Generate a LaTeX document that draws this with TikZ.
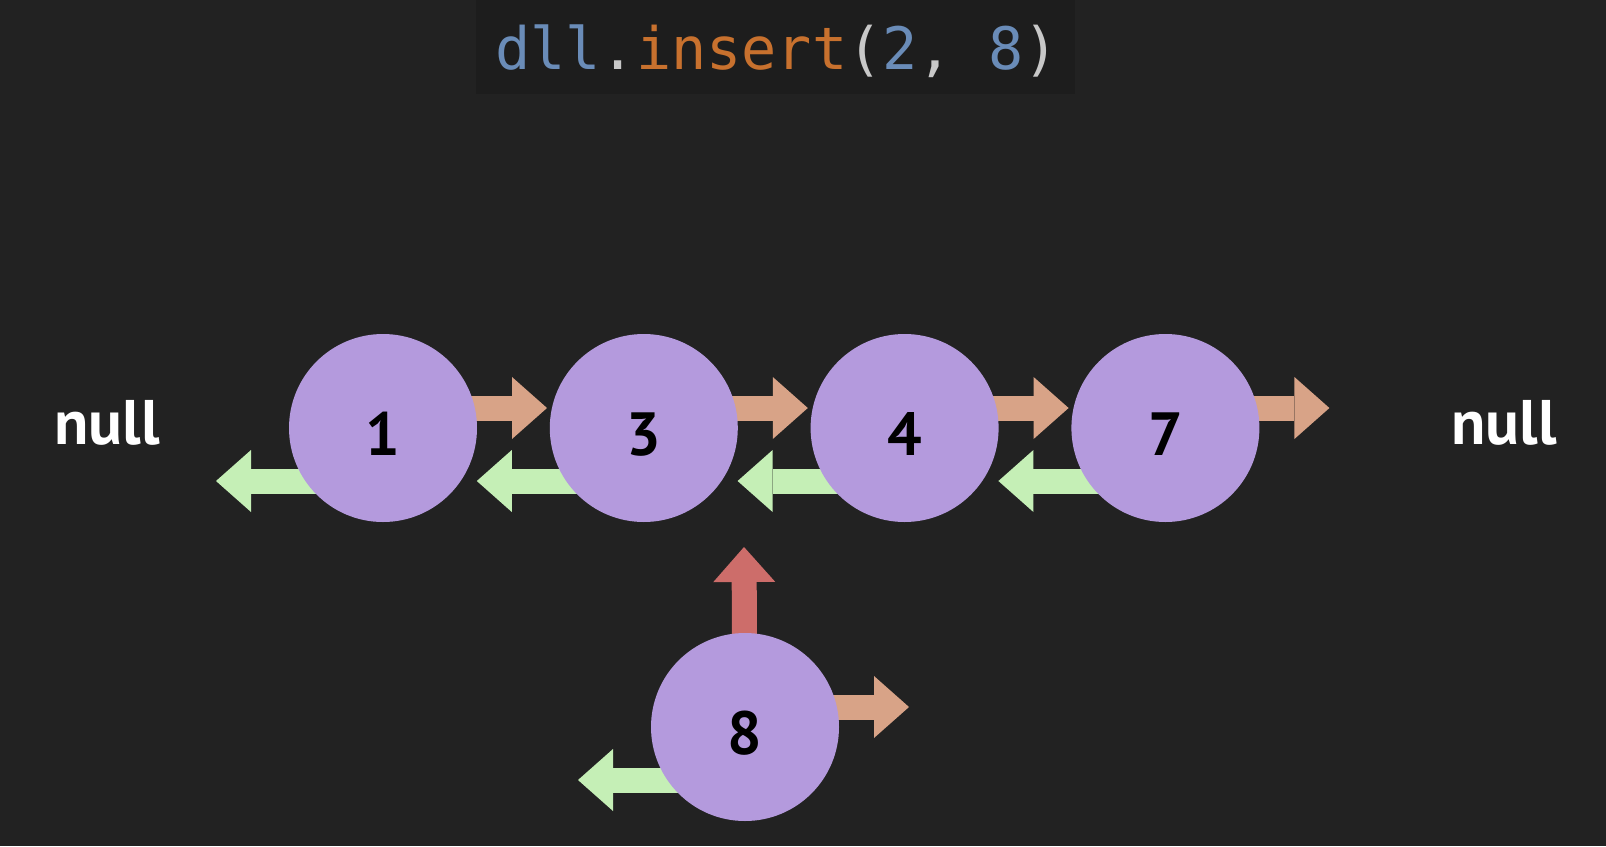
\documentclass[tikz,border=0pt]{standalone}
\usepackage{fontspec}
\setmainfont{PT Sans}
\setmonofont{DejaVu Sans Mono}
\usepackage{xcolor}
\usetikzlibrary{arrows.meta, positioning}

\definecolor{canvas}{HTML}{222222}
\definecolor{codebg}{HTML}{1D1D1D}
\definecolor{nodefill}{HTML}{B49ADD}
\definecolor{nextcol}{HTML}{D8A387}
\definecolor{prevcol}{HTML}{C5EFB6}
\definecolor{newcol}{HTML}{CD6D6A}
\definecolor{codeblue}{HTML}{6A8CB8}
\definecolor{codeorange}{HTML}{C8712E}
\definecolor{codegrey}{HTML}{C8C8C8}

\pgfdeclarelayer{bg}
\pgfdeclarelayer{links}
\pgfsetlayers{bg,links,main}

\begin{document}
\begin{tikzpicture}[
        x=1pt, y=-1pt,
        node distance=72.8pt,
        elem/.style={circle, fill=nodefill, minimum size=188pt, inner sep=0pt, outer sep=0pt,
            text height=54pt, text depth=0pt, font=\fontsize{61}{61}\selectfont\bfseries},
        nulltext/.style={anchor=base, text=white, font=\fontsize{63}{63}\selectfont\bfseries},
        codetext/.style={anchor=base, font=\fontsize{58.5}{58.5}\selectfont\ttfamily},
        ptr/.style={-{Triangle[length=35pt, width=62pt, line width=0pt]}, line width=25pt},
        nextptr/.style={ptr, draw=nextcol},
        prevptr/.style={ptr, draw=prevcol},
        newptr/.style={ptr, draw=newcol}
    ]

    \useasboundingbox (0,0) rectangle (1606,846);
    \begin{pgfonlayer}{bg}
        \fill[canvas] (0,0) rectangle (1606,846);
        \fill[codebg] (476,0) rectangle (1075,94);
    \end{pgfonlayer}

    % Call
    \node[codetext] (code) at (777,69) {\textcolor{codeblue}{dll}\textcolor{codegrey}{.}\textcolor{codeorange}{insert}\textcolor{codegrey}{(}\textcolor{codeblue}{2}\textcolor{codegrey}{, }\textcolor{codeblue}{8}\textcolor{codegrey}{)}};

    % List nodes
    \node[elem] (n1) at (383,428) {1};
    \node[elem, right=of n1] (n3) {3};
    \node[elem, right=of n3] (n4) {4};
    \node[elem, right=of n4] (n7) {7};
    \node[elem] (n8) at (745,727) {8};

    \node[nulltext] (nullL) at (107,444) {null};
    \node[nulltext] (nullR) at (1504,444) {null};

    % Pointer ends
    \coordinate (n1next) at ([shift={(164pt,20pt)}]n1.center);
    \coordinate (n3next) at ([shift={(164pt,20pt)}]n3.center);
    \coordinate (n4next) at ([shift={(164pt,20pt)}]n4.center);
    \coordinate (n7next) at ([shift={(164pt,20pt)}]n7.center);
    \coordinate (n8next) at ([shift={(164pt,20pt)}]n8.center);
    \coordinate (n1prev) at ([shift={(-167pt,-53pt)}]n1.center);
    \coordinate (n3prev) at ([shift={(-167pt,-53pt)}]n3.center);
    \coordinate (n4prev) at ([shift={(-167pt,-53pt)}]n4.center);
    \coordinate (n7prev) at ([shift={(-167pt,-53pt)}]n7.center);
    \coordinate (n8prev) at ([shift={(-167pt,-53pt)}]n8.center);
    \coordinate (n8up) at ([shift={(-1pt,180pt)}]n8.center);

    % Pointers
    \begin{pgfonlayer}{links}
        \draw[nextptr] ([yshift=20pt]n1.center) -- (n1next);
        \draw[nextptr] ([yshift=20pt]n3.center) -- (n3next);
        \draw[nextptr] ([yshift=20pt]n4.center) -- (n4next);
        \draw[nextptr] ([yshift=20pt]n7.center) -- (n7next);
        \draw[nextptr] ([yshift=20pt]n8.center) -- (n8next);
        \draw[prevptr] ([yshift=-53pt]n1.center) -- (n1prev);
        \draw[prevptr] ([yshift=-53pt]n3.center) -- (n3prev);
        \draw[prevptr] ([yshift=-53pt]n4.center) -- (n4prev);
        \draw[prevptr] ([yshift=-53pt]n7.center) -- (n7prev);
        \draw[prevptr] ([yshift=-53pt]n8.center) -- (n8prev);
        \draw[newptr] (n8.center) -- (n8up);
    \end{pgfonlayer}

\end{tikzpicture}
\end{document}
